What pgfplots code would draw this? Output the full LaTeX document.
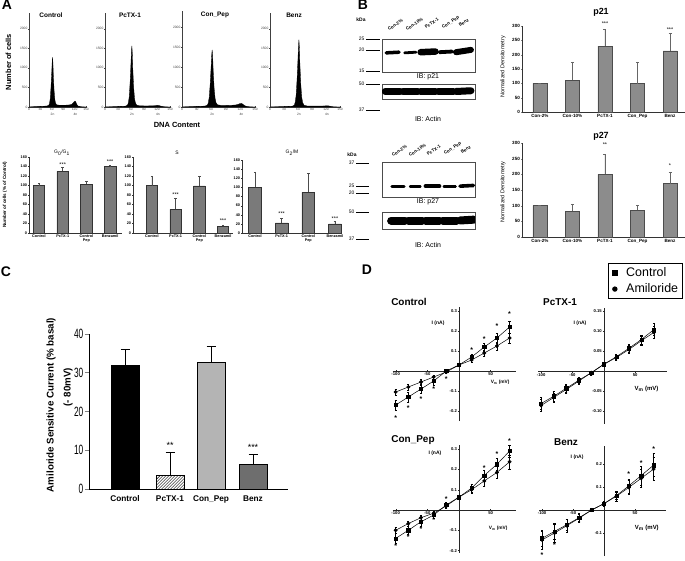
\documentclass[border=0pt]{standalone}
\usepackage{fontspec}
\setmainfont{Liberation Sans}
\newfontfamily\narrowfont[FakeStretch=0.62]{Liberation Sans}
\usepackage{pgfplots}
\pgfplotsset{compat=1.18}
\usetikzlibrary{patterns}
\newcommand{\fs}[1]{\fontsize{#1}{#1}\selectfont}
\definecolor{barA}{RGB}{122,122,122}
\definecolor{barB}{RGB}{140,140,140}
\definecolor{cgray}{RGB}{180,180,180}
\definecolor{cdark}{RGB}{110,110,110}
\pgfplotsset{
  every axis/.append style={scale only axis, /pgf/number format/assume math mode=true,
    /pgf/number format/set thousands separator={}},
  hist/.style={axis lines=left, axis line style={-,line width=0.4pt,black!75},
    xmin=0,xmax=150,ymin=0,ymax=2400, xtick={0,30,60,90,120,150}, ytick={0,500,1000,1500,2000},
    tick label style={font=\fs{3.3}, text=black!75}, major tick length=1.2bp,
    tick style={black!75, line width=0.3pt}, height=94bp, clip=false,
    xticklabel style={inner sep=0.6bp}, yticklabel style={inner sep=0.8bp}},
  abar/.style={ybar, axis lines=left, axis line style={-,line width=0.6pt, black!80},
    ymin=0,ymax=160,ytick={0,20,...,160}, xtick={0,1,2,3},
    xticklabels={Control,PcTX-1,{Control\\Pep},Benzamil},
    xticklabel style={align=center, font=\bfseries\fs{3.8}, inner sep=1bp},
    yticklabel style={font=\bfseries\fs{3.8}, inner sep=1bp},
    major tick length=1.5bp, tick style={black!80}, bar width=0.48, height=76bp, clip=false},
  abarsty/.style={fill=barA, draw=black!80, line width=0.6pt, bar shift=0pt,
    error bars/.cd, y dir=plus, y explicit, error bar style={black!70,line width=0.4pt},
    error mark options={rotate=90,mark size=1.2bp,black!70}},
  bbar/.style={ybar, axis lines=left, axis line style={-,line width=0.6pt, black!80},
    ymin=0,ymax=300,ytick={0,50,...,300}, xmin=-0.55,xmax=4.46, xtick={0,...,4},
    xticklabels={Con-2\%,Con-10\%,PcTX-1,Con\_Pep,Benz},
    tick label style={font=\bfseries\fs{4.6}, inner sep=1.2bp}, major tick length=1.5bp,
    bar width=0.43, clip=false, width=163bp},
  bbarsty/.style={fill=barB, draw=black!70, line width=0.5pt, bar shift=0pt,
    error bars/.cd, y dir=plus, y explicit, error bar style={black!60,line width=0.4pt},
    error mark options={rotate=90,mark size=1.5bp,black!60}},
  blot/.style={axis lines=box, xtick=\empty, ytick=\empty, ymin=0, ymax=1,
    axis line style={line width=0.8pt, black!70}, width=93bp},
  band/.style={black, line cap=round, line width=#1},
  cerr/.style={error bars/.cd, y dir=plus, y explicit, error bar style={line width=1pt, black},
    error mark options={rotate=90, mark size=4.5bp, line width=1pt, black}},
  iv/.style={axis lines=middle, axis line style={-,line width=0.5pt, black!85},
    xtick={-100,-50,50}, tick label style={font=\bfseries\fs{4.2}, inner sep=0.8bp},
    major tick length=2bp, tick style={black!85}, clip=false, xmin=-105},
  sq/.style={black, line width=0.5pt, mark=square*, mark size=1.6bp, mark options={solid},
    error bars/.cd, y dir=both, y explicit, error bar style={line width=0.4pt},
    error mark options={rotate=90,mark size=1.1bp,line width=0.4pt}},
  ci/.style={black, line width=0.5pt, mark=*, mark size=1.7bp, mark options={solid},
    error bars/.cd, y dir=both, y explicit, error bar style={line width=0.4pt},
    error mark options={rotate=90,mark size=1.1bp,line width=0.4pt}},
}
\tikzset{ast/.style={font=\fs{5.5}}, dast/.style={font=\bfseries\fs{7}},
  lane/.style={font=\bfseries\fs{4.5}, rotate=33, anchor=base west, inner sep=0pt}}
\begin{document}
\begin{tikzpicture}
\useasboundingbox (0,0) rectangle (685bp,-561bp);
% panel letters
\node[font=\bfseries\fs{14}] at (7bp,-5bp) {A};
\node[font=\bfseries\fs{14}] at (363bp,-5bp) {B};
\node[font=\bfseries\fs{14}] at (6bp,-272bp) {C};
\node[font=\bfseries\fs{14}] at (367bp,-270bp) {D};
% ===== A: histograms
\begin{axis}[hist, at={(29bp,-107bp)}, anchor=south west, width=57bp]
\addplot[fill=black, draw=black, line width=0.3pt] coordinates {(0,0)(5,6)(15,10)(25,14)(35,18)(45,24)(48,28)(52,45)(54,90)(56,220)(58,520)(60,920)(61,1150)(62,1270)(63,1120)(64,820)(66,420)(68,190)(70,95)(73,55)(80,45)(90,45)(100,48)(108,55)(113,70)(116,100)(119,135)(121,150)(123,130)(125,85)(127,45)(130,20)(136,8)(145,3)(150,0)} \closedcycle;
\node[font=\fs{3.3},text=black!75] at (axis cs:62,0) [yshift=-7.5bp] {2n};
\node[font=\fs{3.3},text=black!75] at (axis cs:122,0) [yshift=-7.5bp] {4n};
\end{axis}
\begin{axis}[hist, at={(105bp,-107bp)}, anchor=south west, width=65bp]
\addplot[fill=black, draw=black, line width=0.3pt] coordinates {(0,0)(5,5)(15,8)(25,12)(35,15)(45,20)(48,24)(52,50)(54,110)(56,270)(58,640)(60,1130)(61,1420)(62,1560)(63,1380)(64,1010)(66,520)(68,230)(70,110)(73,50)(80,30)(90,28)(100,28)(110,30)(116,35)(120,42)(124,40)(128,25)(134,10)(142,4)(150,0)} \closedcycle;
\node[font=\fs{3.3},text=black!75] at (axis cs:62,0) [yshift=-7.5bp] {2n};
\node[font=\fs{3.3},text=black!75] at (axis cs:122,0) [yshift=-7.5bp] {4n};
\end{axis}
\begin{axis}[hist, at={(182bp,-107bp)}, anchor=south west, width=73bp, height=96bp]
\addplot[fill=black, draw=black, line width=0.3pt] coordinates {(0,0)(5,6)(15,9)(25,13)(35,16)(45,22)(48,26)(52,48)(54,100)(56,250)(58,590)(60,1040)(61,1300)(62,1430)(63,1270)(64,930)(66,470)(68,215)(70,105)(73,55)(80,40)(90,40)(100,42)(110,50)(115,65)(119,85)(122,90)(125,70)(128,40)(132,15)(140,5)(150,0)} \closedcycle;
\node[font=\fs{3.3},text=black!75] at (axis cs:62,0) [yshift=-7.5bp] {2n};
\node[font=\fs{3.3},text=black!75] at (axis cs:122,0) [yshift=-7.5bp] {4n};
\end{axis}
\begin{axis}[hist, at={(270bp,-107bp)}, anchor=south west, width=70bp]
\addplot[fill=black, draw=black, line width=0.3pt] coordinates {(0,0)(5,5)(15,8)(25,11)(35,14)(45,18)(48,22)(52,45)(54,120)(56,300)(58,700)(60,1240)(61,1550)(62,1720)(63,1510)(64,1110)(66,570)(68,250)(70,110)(73,45)(80,25)(90,22)(100,22)(110,24)(118,28)(122,32)(126,28)(130,15)(136,6)(144,2)(150,0)} \closedcycle;
\node[font=\fs{3.3},text=black!75] at (axis cs:62,0) [yshift=-7.5bp] {2n};
\node[font=\fs{3.3},text=black!75] at (axis cs:122,0) [yshift=-7.5bp] {4n};
\end{axis}
\node[font=\bfseries\fs{6.5}] at (51bp,-15bp) {Control};
\node[font=\bfseries\fs{6.5}] at (130bp,-15bp) {PcTX-1};
\node[font=\bfseries\fs{6.5}] at (215bp,-15bp) {Con\_Pep};
\node[font=\bfseries\fs{6.5}] at (294bp,-15bp) {Benz};
\node[font=\bfseries\fs{7.5}, rotate=90] at (8.5bp,-62bp) {Number of cells};
\node[font=\bfseries\fs{7.5}] at (177bp,-125bp) {DNA Content};
% ===== A: bar charts
\begin{axis}[abar, at={(29bp,-233bp)}, anchor=south west, width=93bp, xmin=-0.42, xmax=3.5]
\addplot[abarsty] coordinates {(0,100) +- (0,5) (1,130) +- (0,8) (2,103) +- (0,6) (3,140) +- (0,2)};
\node[ast] at (axis cs:1,145) {***};
\node[ast] at (axis cs:3,151) {***};
\end{axis}
\begin{axis}[abar, at={(133bp,-233bp)}, anchor=south west, width=100bp, xmin=-0.8, xmax=3.42]
\addplot[abarsty] coordinates {(0,100) +- (0,20) (1,50) +- (0,24) (2,99) +- (0,21) (3,14) +- (0,3)};
\node[ast] at (axis cs:1,80) {***};
\node[ast] at (axis cs:3,27) {***};
\end{axis}
\begin{axis}[abar, at={(242bp,-233bp)}, anchor=south west, width=98bp, height=73bp, xmin=-0.49, xmax=3.19]
\addplot[abarsty] coordinates {(0,100) +- (0,34) (1,22) +- (0,10) (2,89) +- (0,42) (3,20) +- (0,6)};
\node[ast] at (axis cs:1,42) {***};
\node[ast] at (axis cs:3,31) {***};
\end{axis}
\node[font=\fs{5}] at (62bp,-153bp) {G\textsubscript{0}/G\textsubscript{1}};
\node[font=\fs{5}] at (177bp,-153bp) {S};
\node[font=\fs{5}] at (292bp,-153bp) {G\textsubscript{2}/M};
\node[font=\bfseries\fs{4.6}, rotate=90] at (5bp,-195bp) {Number of cells (\% of Control)};
% ===== B: blots
\node[font=\bfseries\fs{5}] at (361bp,-20bp) {kDa};
\foreach \yy/\lab in {39/25,50/20,71/15,84/50,110/37}{
  \draw[line width=0.9pt] (366bp,-\yy bp) -- (380bp,-\yy bp);
  \node[font=\fs{5}, anchor=east, inner sep=0.5bp] at (365bp,-\yy bp) {\lab};}
\begin{axis}[blot, at={(382bp,-72bp)}, anchor=south west, height=33bp, xmin=0.4, xmax=5.65]
\addplot[band=3.5bp] coordinates {(0.64,0.58)(1.36,0.6)};
\addplot[band=2.8bp] coordinates {(1.68,0.58)(2.32,0.6)};
\addplot[band=6.5bp] coordinates {(2.58,0.6)(3.42,0.62)};
\addplot[band=3.8bp] coordinates {(3.64,0.6)(4.36,0.62)};
\addplot[band=6bp] coordinates {(4.58,0.6)(5.42,0.67)};
\end{axis}
\begin{axis}[blot, at={(382bp,-99bp)}, anchor=south west, height=15bp, xmin=0.4, xmax=5.65]
\addplot[band=7bp] coordinates {(0.58,0.5)(1.42,0.5)};
\addplot[band=7bp] coordinates {(1.58,0.5)(2.42,0.5)};
\addplot[band=7bp] coordinates {(2.58,0.5)(3.42,0.5)};
\addplot[band=7bp] coordinates {(3.58,0.5)(4.42,0.5)};
\addplot[band=7bp] coordinates {(4.58,0.5)(5.42,0.55)};
\end{axis}
\node[font=\fs{7}] at (428bp,-77bp) {IB: p21};
\node[font=\fs{7}] at (428bp,-119bp) {IB: Actin};
\node[lane] at (389bp,-31bp) {Con-2\%};
\node[lane] at (407bp,-31bp) {Con-10\%};
\node[lane] at (426bp,-29bp) {PcTX-1};
\node[lane] at (443bp,-29bp) {Con\_Pep};
\node[lane] at (460bp,-27bp) {Benz};
\node[font=\bfseries\fs{5}] at (352bp,-155bp) {kDa};
\foreach \yy/\lab in {163/37,186/25,193/20,212/50,239/37}{
  \draw[line width=0.9pt] (356bp,-\yy bp) -- (369bp,-\yy bp);
  \node[font=\fs{5}, anchor=east, inner sep=0.5bp] at (355bp,-\yy bp) {\lab};}
\begin{axis}[blot, at={(382bp,-197bp)}, anchor=south west, height=35bp, xmin=0.07, xmax=5.47]
\addplot[band=3bp] coordinates {(0.64,0.31)(1.36,0.31)};
\addplot[band=2.4bp] coordinates {(1.7,0.3)(2.3,0.3)};
\addplot[band=4bp] coordinates {(2.6,0.31)(3.4,0.31)};
\addplot[band=2.6bp] coordinates {(3.66,0.3)(4.34,0.3)};
\addplot[band=3.6bp] coordinates {(4.6,0.31)(5.38,0.33)};
\end{axis}
\begin{axis}[blot, at={(382bp,-229bp)}, anchor=south west, height=17bp, xmin=0.07, xmax=5.47]
\addplot[band=8bp] coordinates {(0.6,0.5)(1.4,0.5)};
\addplot[band=8bp] coordinates {(1.6,0.5)(2.4,0.5)};
\addplot[band=8bp] coordinates {(2.6,0.5)(3.4,0.5)};
\addplot[band=8bp] coordinates {(3.6,0.5)(4.4,0.5)};
\addplot[band=8bp] coordinates {(4.6,0.5)(5.4,0.55)};
\end{axis}
\node[font=\fs{7}] at (428bp,-202bp) {IB: p27};
\node[font=\fs{7}] at (428bp,-245bp) {IB: Actin};
\node[lane] at (393bp,-157bp) {Con-2\%};
\node[lane] at (410bp,-157bp) {Con-10\%};
\node[lane] at (428bp,-156bp) {PcTX-1};
\node[lane] at (445bp,-155bp) {Con\_Pep};
\node[lane] at (462bp,-154bp) {Benz};
% ===== B: bar charts
\begin{axis}[bbar, at={(522bp,-112bp)}, anchor=south west, height=86bp]
\addplot[bbarsty] coordinates {(0,100) +- (0,0) (1,110) +- (0,65) (2,230) +- (0,58) (3,99) +- (0,76) (4,213) +- (0,61)};
\node[ast] at (axis cs:2,309) {***};
\node[ast] at (axis cs:4,286) {***};
\end{axis}
\node[font=\fs{5.5}, rotate=90] at (503bp,-67bp) {Normalized Densitometry};
\node[font=\bfseries\fs{9}] at (601bp,-12bp) {p21};
\begin{axis}[bbar, at={(522bp,-237bp)}, anchor=south west, height=94bp]
\addplot[bbarsty] coordinates {(0,100) +- (0,0) (1,82) +- (0,24) (2,200) +- (0,64) (3,85) +- (0,17) (4,170) +- (0,38)};
\node[ast] at (axis cs:2,295) {**};
\node[ast] at (axis cs:4,228) {*};
\end{axis}
\node[font=\fs{5.5}, rotate=90] at (503bp,-192bp) {Normalized Densitometry};
\node[font=\bfseries\fs{9}] at (601bp,-136bp) {p27};
% ===== C
\begin{axis}[ybar, at={(89bp,-489bp)}, anchor=south west, width=199bp, height=155bp,
  xmin=89, xmax=288, ymin=0, ymax=40, axis lines=left, axis line style={-,line width=0.9pt},
  ytick={0,10,20,30,40}, yticklabel style={font=\narrowfont\fs{13.5}, inner sep=1bp},
  xtick={125,170,211,253}, xticklabels={Control,PcTX-1,Con\_Pep,Benz},
  xticklabel style={font=\bfseries\fs{8.3}, inner sep=2bp}, x tick style={draw=none},
  y tick style={line width=0.9pt}, tick align=outside, major tick length=4.5bp, bar width=28, clip=false]
\addplot[fill=black, draw=black, line width=0.8pt, bar shift=0pt, cerr] coordinates {(125,31.8) +- (0,4.3)};
\addplot[pattern=north east lines, draw=black, line width=0.8pt, bar shift=0pt, cerr] coordinates {(170,3.6) +- (0,5.7)};
\addplot[fill=cgray, draw=black, line width=0.8pt, bar shift=0pt, cerr] coordinates {(211,32.8) +- (0,4.1)};
\addplot[fill=cdark, draw=black, line width=0.8pt, bar shift=0pt, cerr] coordinates {(253,6.4) +- (0,2.4)};
\node[font=\fs{9}] at (axis cs:170,11.3) {**};
\node[font=\fs{9}] at (axis cs:253,10.8) {***};
\end{axis}
\node[rotate=90, font=\bfseries\fs{9.8}] at (51bp,-405bp) {Amiloride Sensitive Current (\% basal)};
\node[rotate=90, font=\bfseries\fs{9.8}] at (68bp,-387bp) {(- 80mV)};
% ===== D
\begin{axis}[iv, at={(392.5bp,-421bp)}, anchor=south west, width=123.4bp, height=114bp,
  xmax=90, ymin=-0.25, ymax=0.32, ytick={-0.2,-0.1,0.1,0.2,0.3}]
\addplot[sq] coordinates {(-100,-0.17)+-(0,0.025) (-80,-0.13)+-(0,0.025) (-60,-0.09)+-(0,0.02) (-40,-0.05)+-(0,0.02) (-20,0.0)+-(0,0.01) (0,0.03)+-(0,0.005) (20,0.07)+-(0,0.012) (40,0.12)+-(0,0.02) (60,0.165)+-(0,0.025) (80,0.22)+-(0,0.03)};
\addplot[ci] coordinates {(-100,-0.105)+-(0,0.015) (-80,-0.08)+-(0,0.015) (-60,-0.055)+-(0,0.012) (-40,-0.03)+-(0,0.01) (-20,-0.005)+-(0,0.008) (0,0.03)+-(0,0.005) (20,0.055)+-(0,0.01) (40,0.09)+-(0,0.015) (60,0.125)+-(0,0.02) (80,0.165)+-(0,0.025)};
\node[dast] at (axis cs:-100,-0.235) {*};
\node[dast] at (axis cs:-80,-0.185) {*};
\node[dast] at (axis cs:-60,-0.14) {*};
\node[dast] at (axis cs:-40,-0.09) {*};
\node[dast] at (axis cs:-20,-0.04) {*};
\node[dast] at (axis cs:20,0.105) {*};
\node[dast] at (axis cs:40,0.16) {*};
\node[dast] at (axis cs:60,0.225) {*};
\node[dast] at (axis cs:80,0.285) {*};
\node[font=\bfseries\fs{5}] at (axis cs:-33,0.24) {I (nA)};
\node[font=\bfseries\fs{4.8}] at (axis cs:65,-0.055) {V\textsubscript{m} (mV)};
\end{axis}
\node[font=\bfseries\fs{10}] at (409bp,-302bp) {Control};
\begin{axis}[iv, at={(538bp,-423.5bp)}, anchor=south west, width=128.5bp, height=116bp,
  xmax=100, ymin=-0.13, ymax=0.16, ytick={-0.10,-0.05,0.05,0.10,0.15},
  yticklabel style={/pgf/number format/.cd, fixed, fixed zerofill, precision=2},
  legend style={at={(1.128,1.384)}, anchor=north east, font=\fs{12.5}, draw=black, line width=0.7pt,
    inner xsep=2.5bp, inner ysep=2.5bp, row sep=1.5bp, cells={anchor=west}},
  legend image code/.code={\path (-4bp,0bp) (9bp,0bp); \draw[#1] plot coordinates {(0bp,0bp)};}]
\addlegendimage{only marks, mark=square*, mark size=2.3bp, black}
\addlegendentry{Control}
\addlegendimage{only marks, mark=*, mark size=2.3bp, black}
\addlegendentry{Amiloride}
\addplot[forget plot, sq] coordinates {(-100,-0.08)+-(0,0.015) (-80,-0.062)+-(0,0.012) (-60,-0.042)+-(0,0.01) (-40,-0.022)+-(0,0.008) (-20,-0.003)+-(0,0.005) (0,0.018)+-(0,0.004) (20,0.037)+-(0,0.006) (40,0.058)+-(0,0.01) (60,0.08)+-(0,0.012) (80,0.105)+-(0,0.015)};
\addplot[forget plot, ci] coordinates {(-100,-0.085)+-(0,0.015) (-80,-0.065)+-(0,0.012) (-60,-0.045)+-(0,0.01) (-40,-0.024)+-(0,0.008) (-20,-0.003)+-(0,0.005) (0,0.018)+-(0,0.004) (20,0.035)+-(0,0.006) (40,0.055)+-(0,0.01) (60,0.077)+-(0,0.012) (80,0.098)+-(0,0.015)};
\node[font=\bfseries\fs{5}] at (axis cs:-38,0.12) {I (nA)};
\node[font=\bfseries\fs{6}] at (axis cs:68,-0.043) {V\textsubscript{m} (mV)};
\end{axis}
\node[font=\bfseries\fs{10}] at (560bp,-302bp) {PcTX-1};
\begin{axis}[iv, at={(392.5bp,-552.6bp)}, anchor=south west, width=123.4bp, height=107.6bp,
  xmax=90, ymin=-0.21, ymax=0.32, ytick={-0.2,-0.1,0.1,0.2,0.3}]
\addplot[sq] coordinates {(-100,-0.14)+-(0,0.025) (-80,-0.10)+-(0,0.02) (-60,-0.058)+-(0,0.02) (-40,-0.025)+-(0,0.015) (-20,0.025)+-(0,0.012) (0,0.063)+-(0,0.01) (20,0.108)+-(0,0.02) (40,0.17)+-(0,0.025) (60,0.225)+-(0,0.03) (80,0.29)+-(0,0.03)};
\addplot[ci] coordinates {(-100,-0.10)+-(0,0.015) (-80,-0.067)+-(0,0.012) (-60,-0.038)+-(0,0.01) (-40,-0.016)+-(0,0.01) (-20,0.02)+-(0,0.01) (0,0.063)+-(0,0.01) (20,0.10)+-(0,0.015) (40,0.143)+-(0,0.025) (60,0.185)+-(0,0.03) (80,0.237)+-(0,0.035)};
\node[dast] at (axis cs:-100,-0.18) {*};
\node[dast] at (axis cs:-80,-0.135) {*};
\node[dast] at (axis cs:-60,-0.092) {*};
\node[dast] at (axis cs:-40,-0.052) {*};
\node[dast] at (axis cs:-20,0.055) {*};
\node[dast] at (axis cs:40,0.205) {*};
\node[dast] at (axis cs:60,0.275) {*};
\node[dast] at (axis cs:80,0.34) {*};
\node[font=\bfseries\fs{5}] at (axis cs:-38,0.28) {I (nA)};
\node[font=\bfseries\fs{4.8}] at (axis cs:62,-0.09) {V\textsubscript{m} (mV)};
\end{axis}
\node[font=\bfseries\fs{10}] at (413bp,-440bp) {Con\_Pep};
\begin{axis}[iv, at={(539bp,-556bp)}, anchor=south west, width=127bp, height=110.4bp,
  xmax=100, ymin=-0.2, ymax=0.28, ytick={-0.1,0.1,0.2}]
\addplot[sq] coordinates {(-100,-0.123)+-(0,0.035) (-80,-0.093)+-(0,0.035) (-60,-0.064)+-(0,0.025) (-40,-0.033)+-(0,0.015) (-20,0.0)+-(0,0.005) (0,0.028)+-(0,0.01) (20,0.063)+-(0,0.015) (40,0.105)+-(0,0.03) (60,0.15)+-(0,0.04) (80,0.195)+-(0,0.05)};
\addplot[ci] coordinates {(-100,-0.13)+-(0,0.04) (-80,-0.10)+-(0,0.04) (-60,-0.068)+-(0,0.03) (-40,-0.035)+-(0,0.02) (-20,0.0)+-(0,0.005) (0,0.028)+-(0,0.01) (20,0.06)+-(0,0.02) (40,0.098)+-(0,0.03) (60,0.138)+-(0,0.04) (80,0.178)+-(0,0.05)};
\node[dast] at (axis cs:-100,-0.195) {*};
\node[dast] at (axis cs:-80,-0.152) {*};
\node[dast] at (axis cs:40,0.157) {*};
\node[dast] at (axis cs:60,0.205) {*};
\node[dast] at (axis cs:80,0.265) {*};
\node[font=\bfseries\fs{5}] at (axis cs:-43.5,0.23) {I (nA)};
\node[font=\bfseries\fs{6}] at (axis cs:69,-0.078) {V\textsubscript{m} (mV)};
\end{axis}
\node[font=\bfseries\fs{10}] at (566bp,-442bp) {Benz};
\end{tikzpicture}
\end{document}
